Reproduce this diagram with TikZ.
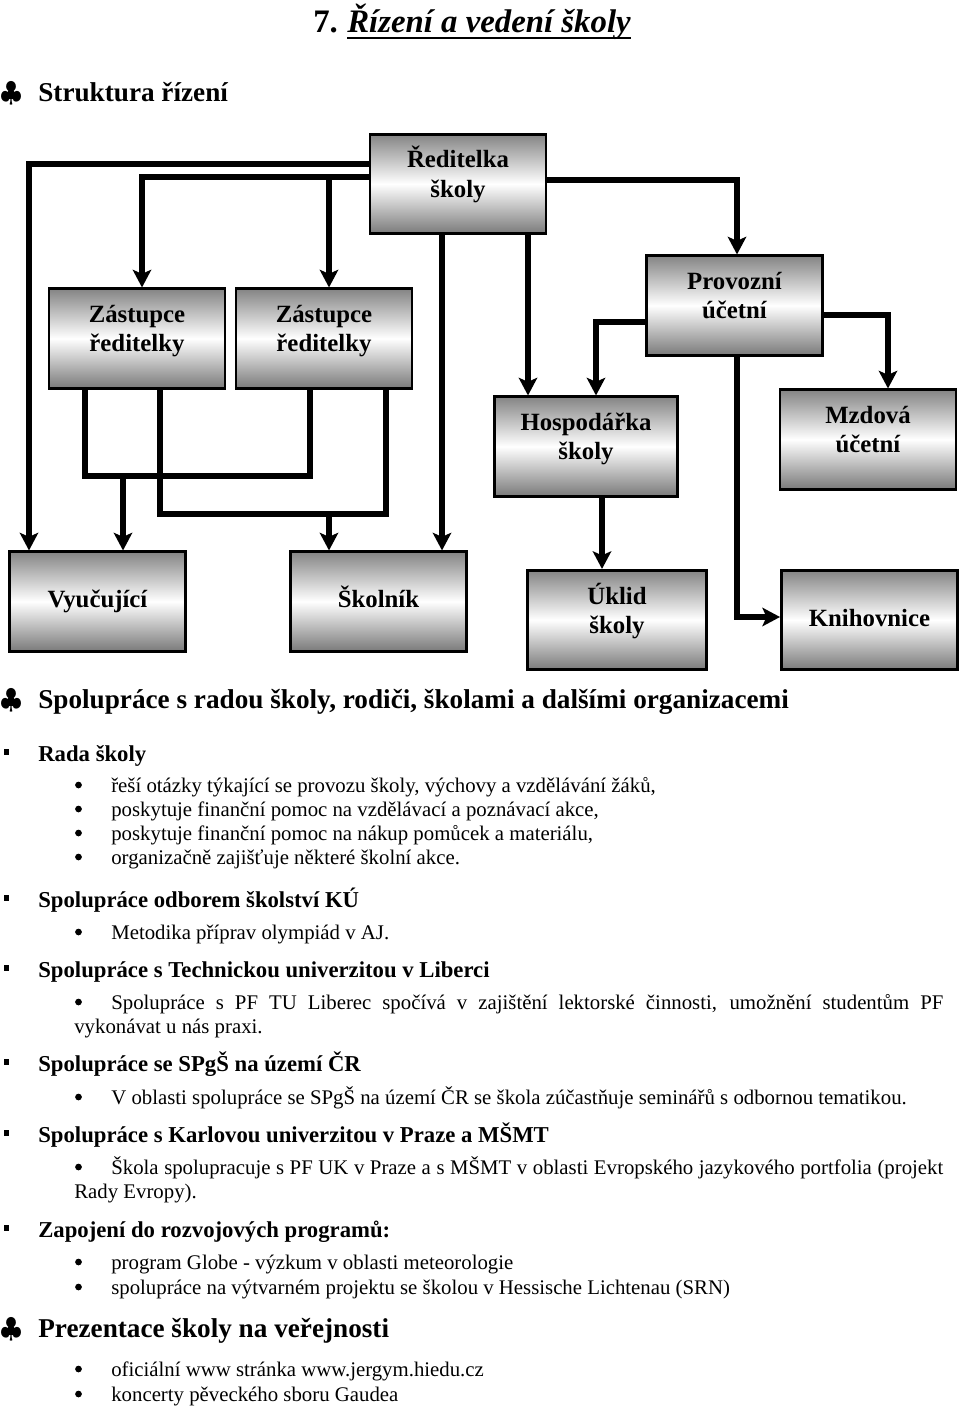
\documentclass[tikz,border=0pt]{standalone}
\usepackage{fontspec}
\setmainfont{Liberation Serif}
\usetikzlibrary{arrows.meta,calc}

\newcommand{\dvaradky}[2]{\begin{tabular}[t]{@{}c@{}}#1\\#2\end{tabular}}

\tikzset{
  box/.style={draw, line width=1.8pt, top color=black!48, bottom color=black!52, middle color=white,
    minimum width=110pt, minimum height=62pt, inner sep=2pt, align=center,
    text height=11pt, text depth=3.5pt,
    font=\fontsize{15.5}{18.2}\selectfont\bfseries},
  box2/.style={box, text height=13pt, text depth=33pt},
  conn/.style={line width=4pt, -{Stealth[length=11pt,width=11.5pt,inset=2.5pt]}},
  link/.style={line width=4pt},
  txt/.style={anchor=base west, inner sep=0pt, font=\fontsize{13}{15}\selectfont},
  sub/.style={txt, font=\fontsize{14.2}{17}\selectfont\bfseries},
  head/.style={txt, font=\fontsize{17}{20}\selectfont\bfseries},
}

\begin{document}
\begin{tikzpicture}[x=0.625pt, y=-0.625pt]
  \useasboundingbox (0,0) rectangle (960,1408);

  \node[txt, font=\fontsize{20.5}{24}\selectfont\bfseries] (num) at (313,33) {7.};
  \node[txt, font=\fontsize{20.5}{24}\selectfont\bfseries\itshape] (tit) at (347,33) {Řízení a vedení školy};
  \draw[line width=1.3pt] ($(tit.base west)+(0,5)$) -- ($(tit.base east)+(0,5)$);

  \node[head, font=\fontsize{17}{20}\selectfont] (c1) at (0,102) {$\clubsuit$};
  \node[head] (struk) at (38,102) {Struktura řízení};

  % organizacni schema
  \node[box2] (red) at (458,184) {\dvaradky{Ředitelka}{školy}};
  \node[box2] (zast1) at (137,338.5) {\dvaradky{Zástupce}{ředitelky}};
  \node[box2] (zast2) at (324,338.5) {\dvaradky{Zástupce}{ředitelky}};
  \node[box2] (prov) at (734.5,305.5) {\dvaradky{Provozní}{účetní}};
  \node[box2, minimum width=114pt] (hosp) at (586,446.5) {\dvaradky{Hospodářka}{školy}};
  \node[box2] (mzd) at (868,439.5) {\dvaradky{Mzdová}{účetní}};
  \node[box] (vyuc) at (97.5,601.5) {Vyučující};
  \node[box] (skol) at (378.5,601.5) {Školník};
  \node[box2, minimum width=112pt] (uklid) at (617,620) {\dvaradky{Úklid}{školy}};
  \node[box] (knih) at (869.5,620) {Knihovnice};

  \draw[conn] ($(red.west)+(0,-20)$) -| ($(vyuc.north)+(-68.5,0)$);
  \draw[conn] ($(red.west)+(0,-7)$) -| ($(zast1.north)+(5,0)$);
  \coordinate (ja) at (329,177);
  \draw[conn] (ja) -- (ja |- zast2.north);
  \draw[conn] ($(red.south)+(-16,0)$) -- ($(skol.north)+(63.5,0)$);
  \draw[conn] ($(red.south)+(70,0)$) -- ($(hosp.north)+(-58,0)$);
  \draw[conn] ($(red.east)+(0,-4)$) -| ($(prov.north)+(2.5,0)$);
  \draw[conn] ($(prov.west)+(0,16.5)$) -| ($(hosp.north)+(10,0)$);
  \draw[conn] ($(prov.east)+(0,9.5)$) -| ($(mzd.north)+(20,0)$);
  \draw[conn] ($(prov.south)+(2.5,0)$) |- ($(knih.west)+(0,-3)$);
  \draw[conn] ($(hosp.south)+(16,0)$) -- ($(uklid.north)+(-15,0)$);
  \coordinate (jb) at (123,476);
  \draw[link] ($(zast1.south)+(-52,0)$) |- (jb) -| ($(zast2.south)+(-14,0)$);
  \draw[conn] (jb) -- (jb |- vyuc.north);
  \coordinate (jc) at (329,514);
  \draw[link] ($(zast1.south)+(23,0)$) |- (jc) -| ($(zast2.south)+(62,0)$);
  \draw[conn] (jc) -- (jc |- skol.north);

  % spoluprace
  \node[head, font=\fontsize{17}{20}\selectfont] (c2) at (0,708) {$\clubsuit$};
  \node[head] (spol) at (38,708) {Spolupráce s radou školy, rodiči, školami a dalšími organizacemi};

  \fill (4,749) rectangle (9,755);
  \node[sub] (rada) at (38,761) {Rada školy};
  \fill (78.5,785) circle (2.1pt);
  \fill (78.5,809) circle (2.1pt);
  \fill (78.5,833) circle (2.1pt);
  \fill (78.5,857) circle (2.1pt);
  \node[txt] (r1) at (111,792) {řeší otázky týkající se provozu školy, výchovy a vzdělávání žáků,};
  \node[txt] (r2) at (111,816) {poskytuje finanční pomoc na vzdělávací a poznávací akce,};
  \node[txt] (r3) at (111,840) {poskytuje finanční pomoc na nákup pomůcek a materiálu,};
  \node[txt] (r4) at (111,864) {organizačně zajišťuje některé školní akce.};

  \fill (4,895) rectangle (9,901);
  \node[sub] (ku) at (38,907) {Spolupráce odborem školství KÚ};
  \fill (78.5,932) circle (2.1pt);
  \node[txt] (k1) at (111,939) {Metodika příprav olympiád v AJ.};

  \fill (4,965) rectangle (9,971);
  \node[sub] (tul) at (38,977) {Spolupráce s Technickou univerzitou v Liberci};
  \fill (78.5,1002) circle (2.1pt);
  \node[txt] (t1) at (111,1009) {\makebox[520pt][s]{Spolupráce s PF TU Liberec spočívá v zajištění lektorské činnosti, umožnění studentům PF}};
  \node[txt] (t2) at (74,1033) {vykonávat u nás praxi.};

  \fill (4,1059) rectangle (9,1065);
  \node[sub] (spgs) at (38,1071) {Spolupráce se SPgŠ na území ČR};
  \fill (78.5,1097) circle (2.1pt);
  \node[txt] (s1) at (111,1104) {V oblasti spolupráce se SPgŠ na území ČR se škola zúčastňuje seminářů s odbornou tematikou.};

  \fill (4,1130) rectangle (9,1136);
  \node[sub] (uk) at (38,1142) {Spolupráce s Karlovou univerzitou v Praze a MŠMT};
  \fill (78.5,1167) circle (2.1pt);
  \node[txt] (u1) at (111,1174) {\makebox[520pt][s]{Škola spolupracuje s PF UK v Praze a s MŠMT v oblasti Evropského jazykového portfolia (projekt}};
  \node[txt] (u2) at (74,1198) {Rady Evropy).};

  \fill (4,1225) rectangle (9,1231);
  \node[sub] (prog) at (38,1237) {Zapojení do rozvojových programů:};
  \fill (78.5,1262) circle (2.1pt);
  \fill (78.5,1287) circle (2.1pt);
  \node[txt] (p1) at (111,1269) {program Globe - výzkum v oblasti meteorologie};
  \node[txt] (p2) at (111,1294) {spolupráce na výtvarném projektu se školou v Hessische Lichtenau (SRN)};

  % prezentace
  \node[head, font=\fontsize{17}{20}\selectfont] (c3) at (0,1337) {$\clubsuit$};
  \node[head] (prez) at (38,1337) {Prezentace školy na veřejnosti};
  \fill (78.5,1369) circle (2.1pt);
  \fill (78.5,1394) circle (2.1pt);
  \node[txt] (w1) at (111,1376) {oficiální www stránka www.jergym.hiedu.cz};
  \node[txt] (w2) at (111,1401) {koncerty pěveckého sboru Gaudea};
\end{tikzpicture}
\end{document}
